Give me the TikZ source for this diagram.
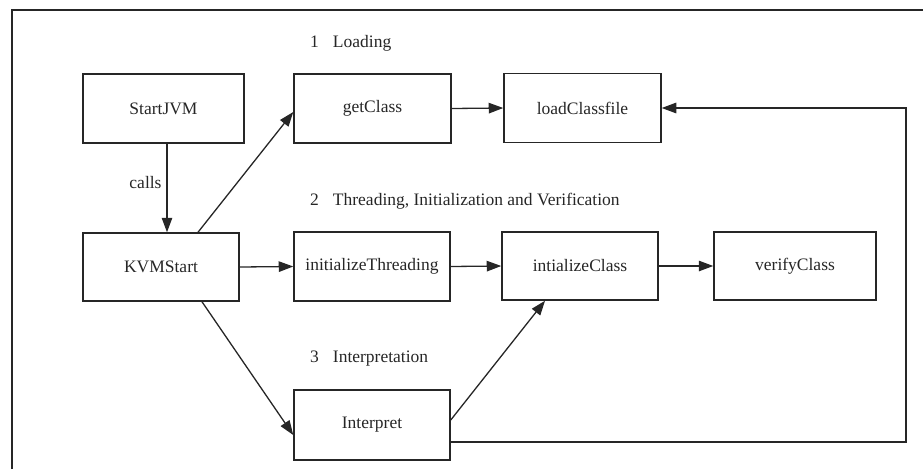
\documentclass[tikz,border=0pt]{standalone}
\usepackage{fontspec}
\setmainfont{Liberation Serif}
\usetikzlibrary{arrows.meta}
\definecolor{ink}{HTML}{262626}
\begin{document}
\begin{tikzpicture}[x=1pt,y=-1pt,
  every node/.style={font=\fontsize{17.5}{21}\selectfont, text=ink},
  box/.style={draw=ink, line width=1.5pt, rectangle, inner sep=0pt},
  arr/.style={draw=ink, line width=1.3pt, -{Triangle[length=14.5pt,width=10.5pt]}},
  plain/.style={draw=ink, line width=1.5pt},
  lbl/.style={anchor=west, inner sep=0pt}]
\useasboundingbox (0,0) rectangle (923,469);

% frame (top and left edges)
\coordinate (fbl) at (12,469);
\coordinate (ftl) at (12,10);
\coordinate (ftr) at (923,10);
\draw[plain] (fbl) -- (ftl) -- (ftr);

% boxes
\node[box, minimum width=161pt, minimum height=69pt] (startjvm) at (163.5,108.5) {StartJVM};
\node[box, minimum width=157pt, minimum height=69pt] (getclass) at (372.5,108.5) {getClass};
\node[box, minimum width=157pt, minimum height=69pt] (loadcf) at (582.5,108) {loadClassfile};
\node[box, minimum width=156pt, minimum height=68pt] (kvmstart) at (161,267) {KVMStart};
\node[box, minimum width=156pt, minimum height=69pt] (initthr) at (372,266.5) {initializeThreading};
\node[box, minimum width=156pt, minimum height=68pt] (initcls) at (580,266) {intializeClass};
\node[box, minimum width=162pt, minimum height=68pt] (verify) at (795,266) {verifyClass};
\node[box, minimum width=156pt, minimum height=70pt] (interp) at (372,425) {Interpret};

% phase labels
\node[lbl] (l1) at (310,43) {1\hspace{0.8em}Loading};
\node[lbl] (l2) at (310,201) {2\hspace{0.8em}Threading, Initialization and Verification};
\node[lbl] (l3) at (310,359) {3\hspace{0.8em}Interpretation};
\node (calls) at (145.5,183) {calls};

% connectors
\draw[arr] ([xshift=3.5pt]startjvm.south) -- ([xshift=6pt]kvmstart.north);
\draw[arr] ([xshift=37pt]kvmstart.north) -- ([yshift=-3.5pt]getclass.west);
\draw[arr] (getclass.east) -- (loadcf.west);
\draw[arr] (kvmstart.east) -- (initthr.west);
\draw[arr] (initthr.east) -- (initcls.west);
\draw[arr] (initcls.east) -- (verify.west);
\draw[arr] ([xshift=41pt]kvmstart.south) -- ([yshift=-10pt]interp.west);
\draw[arr] ([yshift=5pt]interp.east) -- ([xshift=-35pt]initcls.south);
\coordinate (loopc) at (906,108);
\draw[arr] ([yshift=-17pt]interp.east) -| (loopc) -- (loadcf.east);
\end{tikzpicture}
\end{document}
